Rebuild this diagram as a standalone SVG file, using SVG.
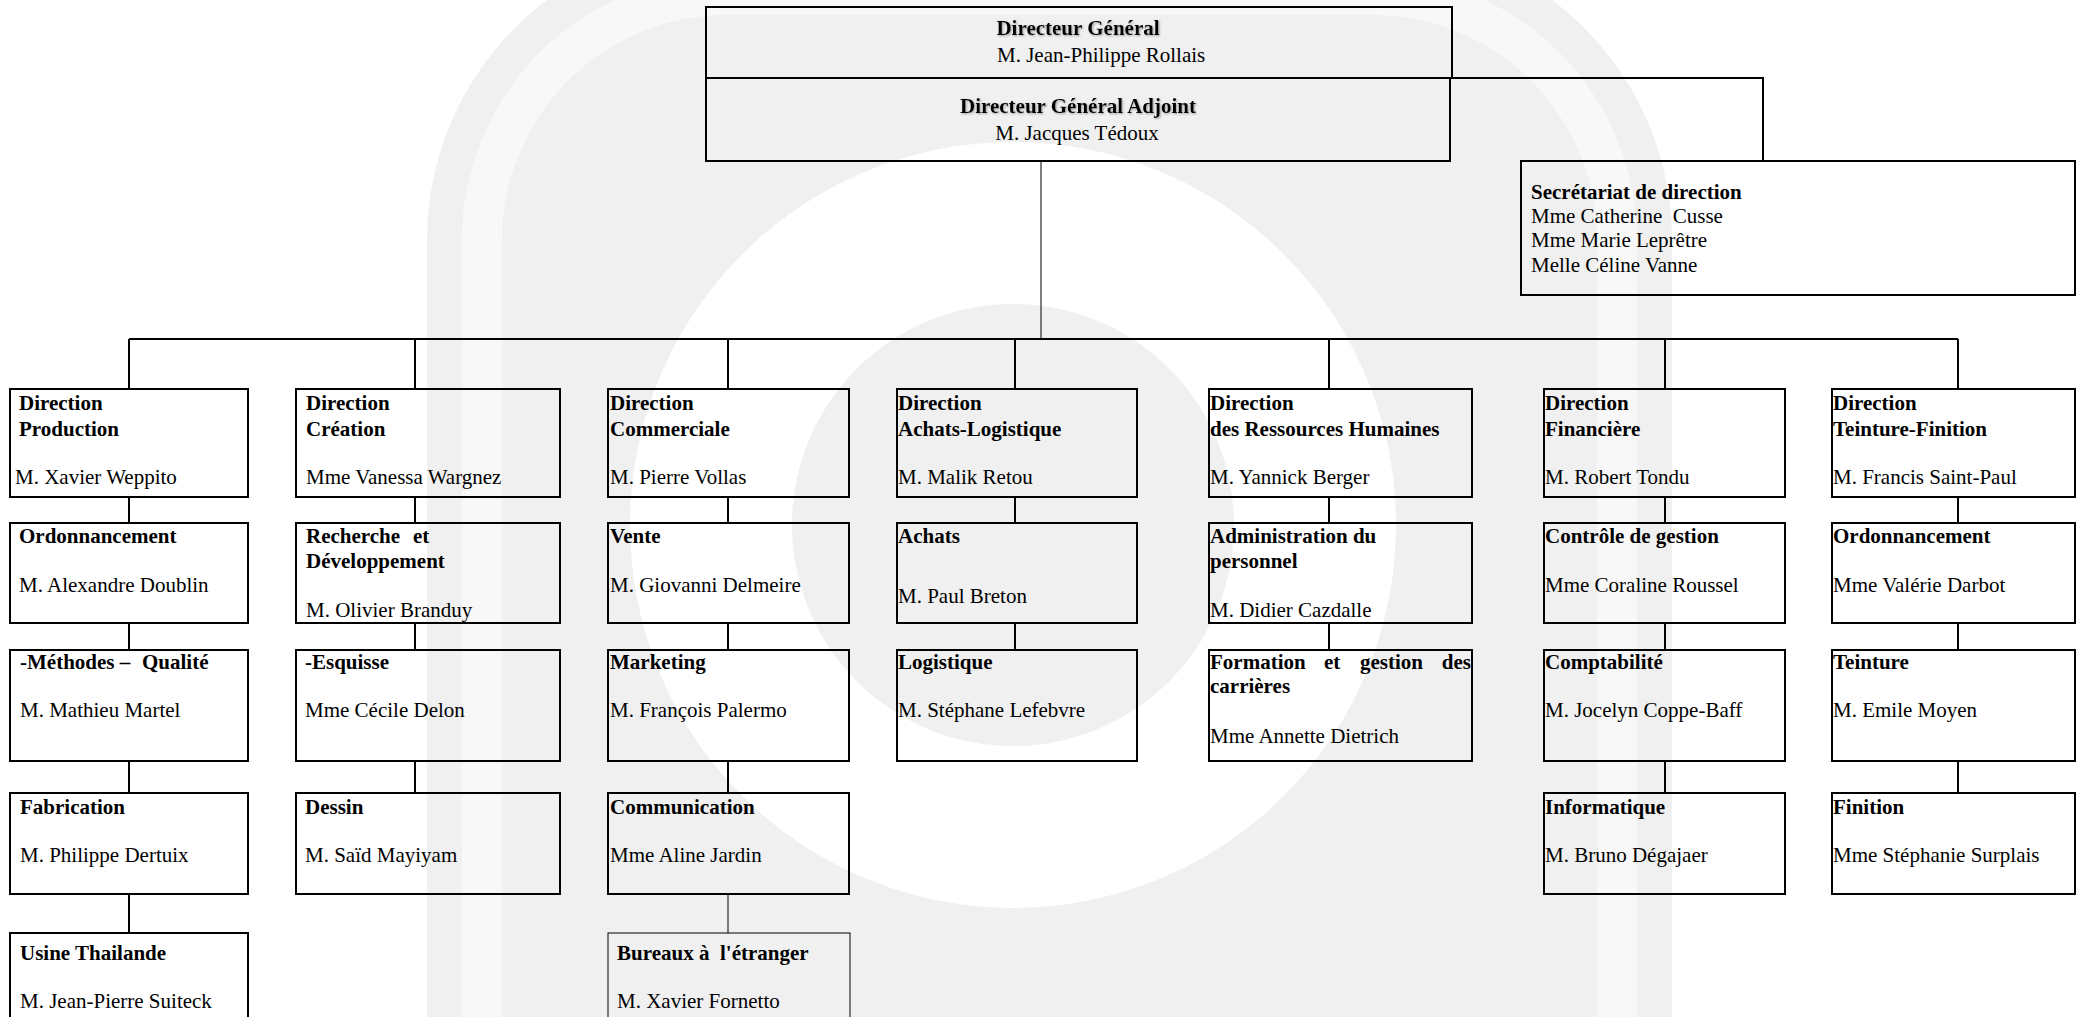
<svg xmlns="http://www.w3.org/2000/svg" width="2083" height="1017" viewBox="0 0 2083 1017">
<style>
  .bg{fill:#ffffff}
  .wm{fill:#f0f0f0}
  .box{fill:none;stroke:#000;stroke-width:2}
  .thinbox{fill:none;stroke:#000;stroke-width:1}
  .conn{fill:none;stroke:#000;stroke-width:2}
  .thin{fill:none;stroke:#000;stroke-width:1}
  text{font-family:"Liberation Serif","Times New Roman",serif;font-size:21px;fill:#000}
  .b{font-weight:bold}
  .mid{text-anchor:middle}
  .end{text-anchor:end}
  .sh{filter:url(#shadow)}
</style>
<defs>
  <filter id="shadow" x="-5%" y="-30%" width="110%" height="160%">
    <feDropShadow dx="1" dy="1" stdDeviation="0.8" flood-color="#777" flood-opacity="0.7"/>
  </filter>
</defs>
<rect class="bg" x="0" y="0" width="2083" height="1017"/>
<g id="watermark">
  <path class="wm" d="M427,1100 V240 A300,300 0 0 1 727,-60 H1372 A300,300 0 0 1 1672,240 V1100 Z"/>
  <path d="M482,1100 V240 A245,245 0 0 1 727,-5 H1372 A245,245 0 0 1 1617,240 V1100" fill="none" stroke="#f8f8f8" stroke-width="40"/>
  <circle cx="1013" cy="525" r="302" fill="none" stroke="#ffffff" stroke-width="162"/>
</g>
<g id="connectors">
  <path class="conn" d="M1450,78 H1763 V161"/>
  <path class="thin" d="M1041,161 V339"/>
  <path class="conn" d="M129,339 H1958"/>
  <path class="conn" d="M129,339 V389 M415,339 V389 M728,339 V389 M1015,339 V389 M1329,339 V389 M1665,339 V389 M1958,339 V389"/>
  <path class="conn" d="M129,497 V523 M129,623 V650 M129,761 V793 M129,894 V933"/>
  <path class="conn" d="M415,497 V523 M415,623 V650 M415,761 V793"/>
  <path class="conn" d="M728,497 V523 M728,623 V650 M728,761 V793"/>
  <path class="thin" d="M728,894 V933"/>
  <path class="conn" d="M1015,497 V523 M1015,623 V650"/>
  <path class="conn" d="M1329,497 V523 M1329,623 V650"/>
  <path class="conn" d="M1665,497 V523 M1665,623 V650 M1665,761 V793"/>
  <path class="conn" d="M1958,497 V523 M1958,623 V650 M1958,761 V793"/>
</g>
<g id="dg">
  <rect class="box" x="706" y="7" width="746" height="71"/>
  <text class="b mid sh" x="1078" y="35">Directeur Général</text>
  <text x="997" y="62">M. Jean-Philippe Rollais</text>
</g>
<g id="dga">
  <rect class="box" x="706" y="78" width="744" height="83"/>
  <text class="b mid sh" x="1078" y="113">Directeur Général Adjoint</text>
  <text class="mid" x="1077" y="140">M. Jacques Tédoux</text>
</g>
<g id="secretariat">
  <rect class="box" x="1521" y="161" width="554" height="134"/>
  <text class="b" x="1531" y="199">Secrétariat de direction</text>
  <text x="1531" y="223" xml:space="preserve">Mme Catherine  Cusse</text>
  <text x="1531" y="247">Mme Marie Leprêtre</text>
  <text x="1531" y="272">Melle Céline Vanne</text>
</g>
<!-- Column 1 -->
<g id="dir-production">
  <rect class="box" x="10" y="389" width="238" height="108"/>
  <text class="b" x="19" y="410">Direction</text>
  <text class="b" x="19" y="436">Production</text>
  <text x="15" y="484">M. Xavier Weppito</text>
</g>
<g id="ordonnancement-1">
  <rect class="box" x="10" y="523" width="238" height="100"/>
  <text class="b" x="19" y="543">Ordonnancement</text>
  <text x="19" y="592">M. Alexandre Doublin</text>
</g>
<g id="methodes-qualite">
  <rect class="box" x="10" y="650" width="238" height="111"/>
  <text class="b" x="20" y="669">-Méthodes –<tspan x="142">Qualité</tspan></text>
  <text x="20" y="717">M. Mathieu Martel</text>
</g>
<g id="fabrication">
  <rect class="box" x="10" y="793" width="238" height="101"/>
  <text class="b" x="20" y="814">Fabrication</text>
  <text x="20" y="862">M. Philippe Dertuix</text>
</g>
<g id="usine-thailande">
  <rect class="box" x="10" y="933" width="238" height="100"/>
  <text class="b" x="20" y="960">Usine Thailande</text>
  <text x="20" y="1008">M. Jean-Pierre Suiteck</text>
</g>
<!-- Column 2 -->
<g id="dir-creation">
  <rect class="box" x="296" y="389" width="264" height="108"/>
  <text class="b" x="306" y="410">Direction</text>
  <text class="b" x="306" y="436">Création</text>
  <text x="306" y="484">Mme Vanessa Wargnez</text>
</g>
<g id="recherche">
  <rect class="box" x="296" y="523" width="264" height="100"/>
  <text class="b" x="306" y="543">Recherche<tspan x="413">et</tspan></text>
  <text class="b" x="306" y="568">Développement</text>
  <text x="306" y="617">M. Olivier Branduy</text>
</g>
<g id="esquisse">
  <rect class="box" x="296" y="650" width="264" height="111"/>
  <text class="b" x="305" y="669">-Esquisse</text>
  <text x="305" y="717">Mme Cécile Delon</text>
</g>
<g id="dessin">
  <rect class="box" x="296" y="793" width="264" height="101"/>
  <text class="b" x="305" y="814">Dessin</text>
  <text x="305" y="862">M. Saïd Mayiyam</text>
</g>
<!-- Column 3 -->
<g id="dir-commerciale">
  <rect class="box" x="608" y="389" width="241" height="108"/>
  <text class="b" x="610" y="410">Direction</text>
  <text class="b" x="610" y="436">Commerciale</text>
  <text x="610" y="484">M. Pierre Vollas</text>
</g>
<g id="vente">
  <rect class="box" x="608" y="523" width="241" height="100"/>
  <text class="b" x="610" y="543">Vente</text>
  <text x="610" y="592">M. Giovanni Delmeire</text>
</g>
<g id="marketing">
  <rect class="box" x="608" y="650" width="241" height="111"/>
  <text class="b" x="610" y="669">Marketing</text>
  <text x="610" y="717">M. François Palermo</text>
</g>
<g id="communication">
  <rect class="box" x="608" y="793" width="241" height="101"/>
  <text class="b" x="610" y="814">Communication</text>
  <text x="610" y="862">Mme Aline Jardin</text>
</g>
<g id="bureaux">
  <rect class="thinbox" x="608" y="933" width="242" height="100"/>
  <text class="b" x="617" y="960">Bureaux<tspan x="699">à</tspan><tspan x="720">l'étranger</tspan></text>
  <text x="617" y="1008">M. Xavier Fornetto</text>
</g>
<!-- Column 4 -->
<g id="dir-achats-logistique">
  <rect class="box" x="897" y="389" width="240" height="108"/>
  <text class="b" x="898" y="410">Direction</text>
  <text class="b" x="898" y="436">Achats-Logistique</text>
  <text x="898" y="484">M. Malik Retou</text>
</g>
<g id="achats">
  <rect class="box" x="897" y="523" width="240" height="100"/>
  <text class="b" x="898" y="543">Achats</text>
  <text x="898" y="603">M. Paul Breton</text>
</g>
<g id="logistique">
  <rect class="box" x="897" y="650" width="240" height="111"/>
  <text class="b" x="898" y="669">Logistique</text>
  <text x="898" y="717">M. Stéphane Lefebvre</text>
</g>
<!-- Column 5 -->
<g id="dir-rh">
  <rect class="box" x="1209" y="389" width="263" height="108"/>
  <text class="b" x="1210" y="410">Direction</text>
  <text class="b" x="1210" y="436">des Ressources Humaines</text>
  <text x="1210" y="484">M. Yannick Berger</text>
</g>
<g id="administration">
  <rect class="box" x="1209" y="523" width="263" height="100"/>
  <text class="b" x="1210" y="543">Administration du</text>
  <text class="b" x="1210" y="568">personnel</text>
  <text x="1210" y="617">M. Didier Cazdalle</text>
</g>
<g id="formation">
  <rect class="box" x="1209" y="650" width="263" height="111"/>
  <text class="b" x="1210" y="669">Formation<tspan x="1324">et</tspan><tspan x="1360">gestion</tspan></text>
  <text class="b end" x="1471" y="669">des</text>
  <text class="b" x="1210" y="693">carrières</text>
  <text x="1210" y="743">Mme Annette Dietrich</text>
</g>
<!-- Column 6 -->
<g id="dir-financiere">
  <rect class="box" x="1544" y="389" width="241" height="108"/>
  <text class="b" x="1545" y="410">Direction</text>
  <text class="b" x="1545" y="436">Financière</text>
  <text x="1545" y="484">M. Robert Tondu</text>
</g>
<g id="controle-gestion">
  <rect class="box" x="1544" y="523" width="241" height="100"/>
  <text class="b" x="1545" y="543">Contrôle de gestion</text>
  <text x="1545" y="592">Mme Coraline Roussel</text>
</g>
<g id="comptabilite">
  <rect class="box" x="1544" y="650" width="241" height="111"/>
  <text class="b" x="1545" y="669">Comptabilité</text>
  <text x="1545" y="717">M. Jocelyn Coppe-Baff</text>
</g>
<g id="informatique">
  <rect class="box" x="1544" y="793" width="241" height="101"/>
  <text class="b" x="1545" y="814">Informatique</text>
  <text x="1545" y="862">M. Bruno Dégajaer</text>
</g>
<!-- Column 7 -->
<g id="dir-teinture-finition">
  <rect class="box" x="1832" y="389" width="243" height="108"/>
  <text class="b" x="1833" y="410">Direction</text>
  <text class="b" x="1833" y="436">Teinture-Finition</text>
  <text x="1833" y="484">M. Francis Saint-Paul</text>
</g>
<g id="ordonnancement-2">
  <rect class="box" x="1832" y="523" width="243" height="100"/>
  <text class="b" x="1833" y="543">Ordonnancement</text>
  <text x="1833" y="592">Mme Valérie Darbot</text>
</g>
<g id="teinture">
  <rect class="box" x="1832" y="650" width="243" height="111"/>
  <text class="b" x="1833" y="669">Teinture</text>
  <text x="1833" y="717">M. Emile Moyen</text>
</g>
<g id="finition">
  <rect class="box" x="1832" y="793" width="243" height="101"/>
  <text class="b" x="1833" y="814">Finition</text>
  <text x="1833" y="862">Mme Stéphanie Surplais</text>
</g>
</svg>
